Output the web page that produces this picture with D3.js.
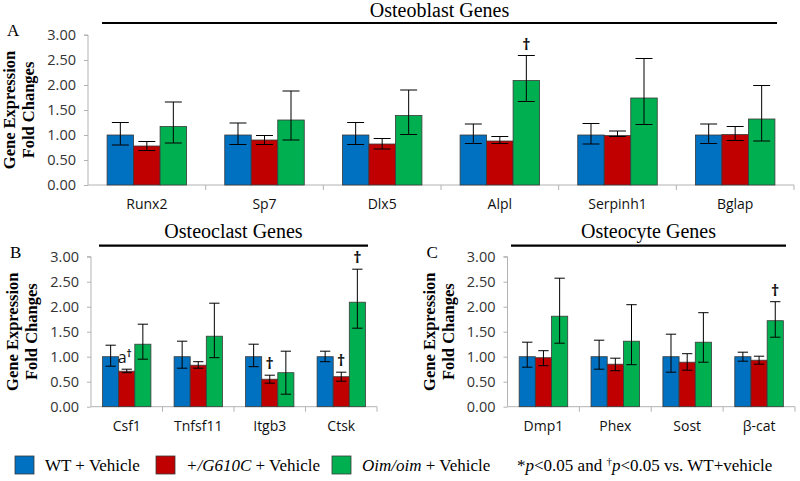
<!DOCTYPE html>
<html><head><meta charset="utf-8">
<script src="https://cdn.jsdelivr.net/npm/d3@7"></script>
<style>
body{margin:0;background:#fff;}
svg{display:block;}
</style></head>
<body>
<svg id="chart" width="800" height="481"></svg>
<script>
// ---------- data ----------
const seriesNames = ["WT + Vehicle", "+/G610C + Vehicle", "Oim/oim + Vehicle"];
const seriesColors = ["#0070C0", "#C00000", "#00B050"];
const yTicks = [0, 0.5, 1, 1.5, 2, 2.5, 3];

// Panel A: osteoblast genes
const osteoblastGenes = ["Runx2", "Sp7", "Dlx5", "Alpl", "Serpinh1", "Bglap"];
const osteoblastWT      = [1.00, 1.00, 1.00, 1.00, 1.00, 1.00];
const osteoblastWTHigh  = [1.25, 1.24, 1.25, 1.22, 1.23, 1.22];
const osteoblastWTLow   = [0.80, 0.81, 0.81, 0.83, 0.82, 0.83];
const osteoblastG610C     = [0.78, 0.90, 0.82, 0.88, 0.99, 1.01];
const osteoblastG610CHigh = [0.87, 0.99, 0.93, 0.97, 1.08, 1.17];
const osteoblastG610CLow  = [0.69, 0.81, 0.72, 0.83, 0.97, 0.89];
const osteoblastOim     = [1.17, 1.30, 1.39, 2.09, 1.74, 1.32];
const osteoblastOimHigh = [1.66, 1.88, 1.90, 2.59, 2.53, 1.99];
const osteoblastOimLow  = [0.84, 0.90, 1.01, 1.67, 1.21, 0.88];
const osteoblastMarks = [["", "", ""], ["", "", ""], ["", "", ""], ["", "", "†"], ["", "", ""], ["", "", ""]];

// Panel B: osteoclast genes
const osteoclastGenes = ["Csf1", "Tnfsf11", "Itgb3", "Ctsk"];
const osteoclastWT      = [1.00, 1.00, 1.00, 1.00];
const osteoclastWTHigh  = [1.23, 1.31, 1.25, 1.11];
const osteoclastWTLow   = [0.81, 0.77, 0.80, 0.90];
const osteoclastG610C     = [0.71, 0.83, 0.55, 0.60];
const osteoclastG610CHigh = [0.75, 0.90, 0.63, 0.69];
const osteoclastG610CLow  = [0.68, 0.77, 0.47, 0.51];
const osteoclastOim     = [1.25, 1.41, 0.68, 2.09];
const osteoclastOimHigh = [1.65, 2.07, 1.11, 2.75];
const osteoclastOimLow  = [0.95, 0.98, 0.25, 1.57];
const osteoclastMarks = [["", "a†", ""], ["", "", ""], ["", "†", ""], ["", "†", "†"]];

// Panel C: osteocyte genes
const osteocyteGenes = ["Dmp1", "Phex", "Sost", "β-cat"];
const osteocyteWT      = [1.00, 1.00, 1.00, 1.00];
const osteocyteWTHigh  = [1.29, 1.33, 1.45, 1.09];
const osteocyteWTLow   = [0.79, 0.75, 0.69, 0.91];
const osteocyteG610C     = [0.98, 0.85, 0.89, 0.93];
const osteocyteG610CHigh = [1.12, 0.97, 1.06, 1.01];
const osteocyteG610CLow  = [0.82, 0.72, 0.73, 0.85];
const osteocyteOim     = [1.81, 1.31, 1.29, 1.72];
const osteocyteOimHigh = [2.57, 2.04, 1.88, 2.10];
const osteocyteOimLow  = [1.27, 0.84, 0.89, 1.39];
const osteocyteMarks = [["", "", ""], ["", "", ""], ["", "", ""], ["", "", "†"]];

// ---------- drawing ----------
const svg = d3.select("#chart");
const sansFont = "'Open Sans', 'Liberation Sans', sans-serif";
const serifFont = "'Liberation Serif', 'Times New Roman', serif";

function buildRows(genes, vals, highs, lows, marks) {
  return genes.map((g, i) => ({
    gene: g,
    bars: seriesNames.map((s, k) => ({
      series: s, k: k,
      value: vals[k][i], high: highs[k][i], low: lows[k][i],
      mark: marks[i][k]
    }))
  }));
}

function drawPanel(opt) {
  const {rows, x0, x1, yTop, yBottom, letter, title, titleLineX0, titleLineX1, titleY, lineY} = opt;
  const g = svg.append("g");
  const x = d3.scaleBand().domain(rows.map(d => d.gene)).range([x0, x1]).paddingInner(0).paddingOuter(0);
  const xs = d3.scaleBand().domain(seriesNames).range([0, x.bandwidth()]).paddingInner(0).paddingOuter(0.72);
  const y = d3.scaleLinear().domain([0, 3]).range([yBottom, yTop]);

  // title + line
  g.append("text").attr("x", (titleLineX0 + titleLineX1) / 2).attr("y", titleY)
    .attr("text-anchor", "middle").attr("font-family", serifFont).attr("font-size", 20)
    .attr("fill", "#000").text(title);
  g.append("line").attr("x1", titleLineX0).attr("x2", titleLineX1).attr("y1", lineY).attr("y2", lineY)
    .attr("stroke", "#000").attr("stroke-width", 2.2);

  // panel letter
  g.append("text").attr("x", x0 - 81).attr("y", yTop + 1).attr("font-family", serifFont)
    .attr("font-size", 17).attr("fill", "#000").text(letter);

  // y axis title
  const yc = (yTop + yBottom) / 2;
  [["Gene Expression", x0 - 73], ["Fold Changes", x0 - 54]].forEach(([t, bx]) => {
    g.append("text").attr("transform", `translate(${bx},${yc}) rotate(-90)`)
      .attr("text-anchor", "middle").attr("font-family", serifFont).attr("font-weight", "bold")
      .attr("font-size", 16.5).attr("fill", "#000").text(t);
  });

  // y axis
  const yAxis = g.append("g").attr("transform", `translate(${x0},0)`)
    .call(d3.axisLeft(y).tickValues(yTicks).tickFormat(d3.format(".2f")).tickSize(4).tickPadding(8));
  yAxis.select(".domain").attr("stroke", "#b3b3b3").attr("d", `M-4,${yTop}H0V${yBottom}`);
  yAxis.selectAll(".tick line").attr("stroke", "#b3b3b3");
  yAxis.selectAll(".tick text").attr("font-family", sansFont).attr("font-size", 14.5).attr("fill", "#333");

  // x axis
  const xAxis = g.append("g").attr("transform", `translate(0,${yBottom})`)
    .call(d3.axisBottom(x).tickSize(0).tickPadding(14));
  xAxis.select(".domain").attr("stroke", "#b3b3b3").attr("d", `M${x0},0H${x1}`);
  xAxis.selectAll(".tick text").attr("font-family", sansFont).attr("font-size", 14).attr("fill", "#111");
  // category separators
  const seps = d3.range(rows.length).map(i => x(rows[i].gene) + x.bandwidth());
  g.selectAll(".sep").data(seps).enter().append("line")
    .attr("x1", d => d).attr("x2", d => d).attr("y1", yBottom).attr("y2", yBottom + 5)
    .attr("stroke", "#b3b3b3");

  // bars
  const groups = g.selectAll(".grp").data(rows).enter().append("g")
    .attr("transform", d => `translate(${x(d.gene)},0)`);
  groups.selectAll("rect").data(d => d.bars).enter().append("rect")
    .attr("x", d => xs(d.series)).attr("width", xs.bandwidth())
    .attr("y", d => y(d.value)).attr("height", d => y(0) - y(d.value))
    .attr("fill", d => seriesColors[d.k]).attr("stroke", "#3a3a3a").attr("stroke-width", 0.8);

  // error bars
  const cap = xs.bandwidth() * 0.32;
  const eb = groups.selectAll(".eb").data(d => d.bars).enter().append("g")
    .attr("stroke", "#000").attr("stroke-width", 1);
  eb.append("line").attr("x1", d => xs(d.series) + xs.bandwidth() / 2).attr("x2", d => xs(d.series) + xs.bandwidth() / 2)
    .attr("y1", d => y(d.high)).attr("y2", d => y(d.low));
  eb.append("line").attr("x1", d => xs(d.series) + xs.bandwidth() / 2 - cap).attr("x2", d => xs(d.series) + xs.bandwidth() / 2 + cap)
    .attr("y1", d => y(d.high)).attr("y2", d => y(d.high));
  eb.append("line").attr("x1", d => xs(d.series) + xs.bandwidth() / 2 - cap).attr("x2", d => xs(d.series) + xs.bandwidth() / 2 + cap)
    .attr("y1", d => y(d.low)).attr("y2", d => y(d.low));

  // significance marks
  groups.selectAll(".mk").data(d => d.bars.filter(b => b.mark)).enter().append("text")
    .attr("x", d => xs(d.series) + xs.bandwidth() / 2 + (d.mark.length > 1 ? -2 : 0))
    .attr("y", d => y(d.high) - 6)
    .attr("text-anchor", "middle").attr("font-family", sansFont).attr("font-size", 16)
    .attr("font-weight", "bold").attr("fill", "#111")
    .each(function(d) {
      const t = d3.select(this);
      if (d.mark.length > 1) {
        t.append("tspan").attr("font-weight", "normal").text(d.mark[0]);
        t.append("tspan").attr("font-size", 10).attr("dy", -6).text(d.mark.slice(1));
      } else {
        t.text(d.mark);
      }
    });
}

drawPanel({
  rows: buildRows(osteoblastGenes,
    [osteoblastWT, osteoblastG610C, osteoblastOim],
    [osteoblastWTHigh, osteoblastG610CHigh, osteoblastOimHigh],
    [osteoblastWTLow, osteoblastG610CLow, osteoblastOimLow], osteoblastMarks),
  x0: 88, x1: 794, yTop: 35, yBottom: 185, letter: "A", title: "Osteoblast Genes",
  titleLineX0: 102, titleLineX1: 777, titleY: 17, lineY: 23
});
drawPanel({
  rows: buildRows(osteoclastGenes,
    [osteoclastWT, osteoclastG610C, osteoclastOim],
    [osteoclastWTHigh, osteoclastG610CHigh, osteoclastOimHigh],
    [osteoclastWTLow, osteoclastG610CLow, osteoclastOimLow], osteoclastMarks),
  x0: 91, x1: 377, yTop: 256.7, yBottom: 406.7, letter: "B", title: "Osteoclast Genes",
  titleLineX0: 99, titleLineX1: 368, titleY: 238, lineY: 245.7
});
drawPanel({
  rows: buildRows(osteocyteGenes,
    [osteocyteWT, osteocyteG610C, osteocyteOim],
    [osteocyteWTHigh, osteocyteG610CHigh, osteocyteOimHigh],
    [osteocyteWTLow, osteocyteG610CLow, osteocyteOimLow], osteocyteMarks),
  x0: 507.5, x1: 795, yTop: 256.7, yBottom: 406.7, letter: "C", title: "Osteocyte Genes",
  titleLineX0: 511, titleLineX1: 786, titleY: 238, lineY: 245.7
});

// legend
const legendX = [15, 156, 332];
const lg = svg.append("g");
seriesNames.forEach((s, k) => {
  lg.append("rect").attr("x", legendX[k]).attr("y", 456).attr("width", 19).attr("height", 18)
    .attr("fill", seriesColors[k]).attr("stroke", "#3a3a3a").attr("stroke-width", 0.8);
  const t = lg.append("text").attr("x", legendX[k] + 30).attr("y", 471)
    .attr("font-family", serifFont).attr("font-size", 17).attr("fill", "#000");
  if (k === 0) t.text("WT + Vehicle");
  if (k === 1) { t.append("tspan").attr("font-style", "italic").text("+/G610C"); t.append("tspan").text(" + Vehicle"); }
  if (k === 2) { t.append("tspan").attr("font-style", "italic").text("Oim/oim"); t.append("tspan").text(" + Vehicle"); }
});
const fn = lg.append("text").attr("x", 517).attr("y", 471).attr("font-family", serifFont)
  .attr("font-size", 17).attr("fill", "#000");
fn.append("tspan").text("*");
fn.append("tspan").attr("font-style", "italic").text("p");
fn.append("tspan").text("<0.05 and ");
fn.append("tspan").attr("font-size", 11).attr("dy", -6).text("†");
fn.append("tspan").attr("font-style", "italic").attr("dy", 6).text("p");
fn.append("tspan").text("<0.05 vs. WT+vehicle");
</script>
</body></html>
